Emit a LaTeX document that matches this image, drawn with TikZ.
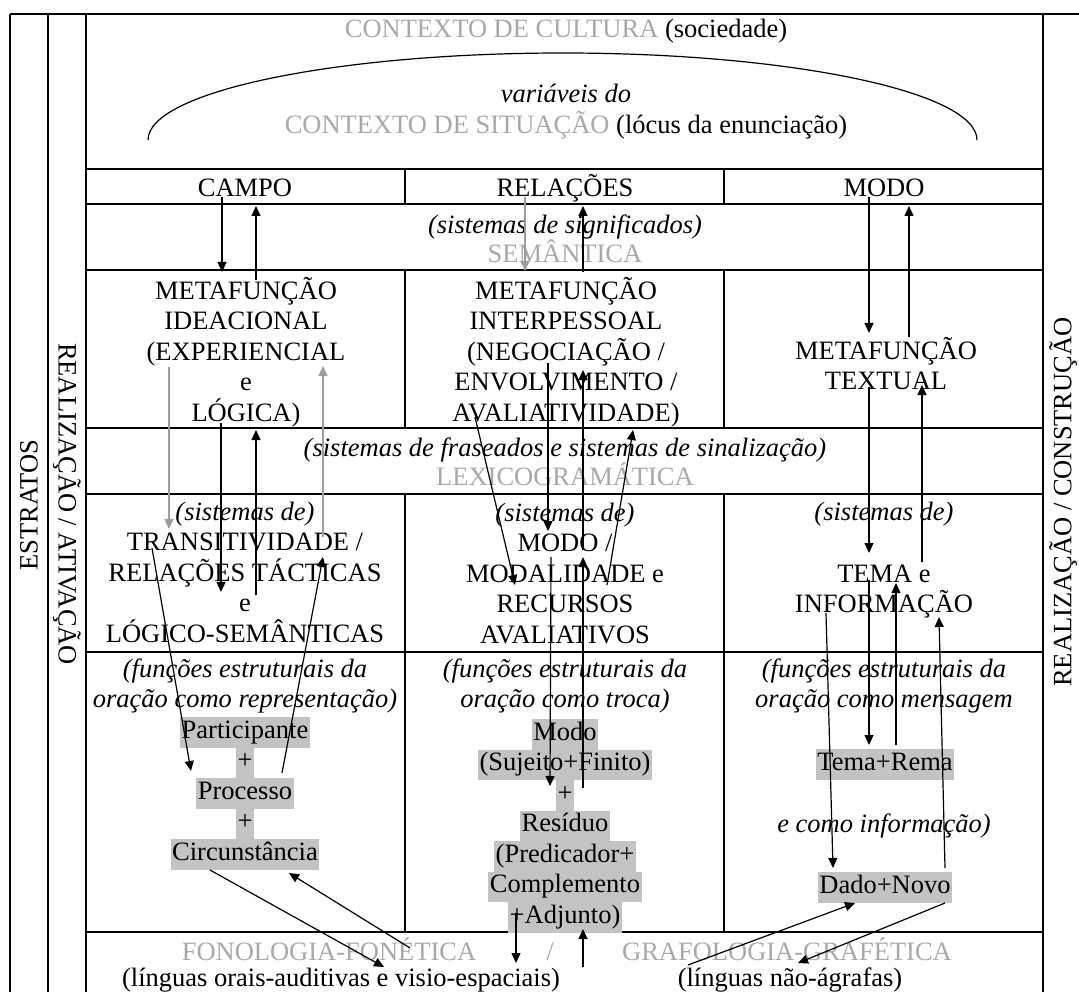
\documentclass[tikz,border=0pt]{standalone}
\usepackage{fontspec}
\setmainfont{Liberation Serif}
\usetikzlibrary{arrows.meta}
\definecolor{shade}{HTML}{C3C3C3}
\definecolor{ghost}{HTML}{A9A9A9}
\definecolor{greyline}{HTML}{9C9C9C}
\newcommand{\tfont}{\fontsize{26.5}{30.5}\selectfont}

\begin{document}
\begin{tikzpicture}[x=1pt, y=-1pt,
    rule/.style={line width=2.4pt},
    arr/.style={-{Triangle[length=10pt,width=9pt]}, line width=1.2pt},
    garr/.style={arr, draw=greyline},
    lbl/.style={font=\tfont, align=center, anchor=base, inner sep=0pt},
    itlbl/.style={lbl, font=\tfont\itshape},
    ghosttxt/.style={lbl, text=ghost},
    hl/.style={lbl, fill=shade, inner xsep=1.5pt, inner ysep=0pt, text height=21pt, text depth=9.5pt}
  ]
  \useasboundingbox (0,0) rectangle (1079,992);

  % frame and grid
  \draw[line width=2pt] (10,14) -- (1079,14);
  \draw[line width=2pt] (10,14) -- (10,992);
  \draw[line width=2pt] (48,14) -- (48,992);
  \draw[rule] (86,14) -- (86,992);
  \draw[rule] (1043,14) -- (1043,992);
  \foreach \y in {169,204,270,428,494,652,932}
    \draw[rule] (86,\y) -- (1043,\y);
  \foreach \x in {405,724} {
    \draw[rule] (\x,169) -- (\x,204);
    \draw[rule] (\x,270) -- (\x,428);
    \draw[rule] (\x,494) -- (\x,932);
  }

  % side labels
  \node[lbl, anchor=center, rotate=90] (estratos) at (29,505) {ESTRATOS};
  \node[lbl, anchor=center, rotate=-90] (ativacao) at (67,504) {REALIZAÇÃO / ATIVAÇÃO};
  \node[lbl, anchor=center, rotate=90] (construcao) at (1063,502) {REALIZAÇÃO / CONSTRUÇÃO};

  % context (base = last line)
  \node[lbl] (cultura) at (566,38) {{\color{ghost}CONTEXTO DE CULTURA} (sociedade)};
  \node[lbl] (situacao) at (566,133.5) {\textit{variáveis do}\\{\color{ghost}CONTEXTO DE SITUAÇÃO} (lócus da enunciação)};
  \draw[line width=1.2pt] (148,140) .. controls (148,92) and (334,53) .. (563,53)
    .. controls (791,53) and (977,92) .. (977,140);

  % register
  \node[lbl] (campo) at (245,197) {CAMPO};
  \node[lbl] (relacoes) at (565,197) {RELAÇÕES};
  \node[lbl] (modo) at (884,197) {MODO};

  % semantics
  \node[itlbl] (signif) at (565,234) {(sistemas de significados)};
  \node[ghosttxt] (semantica) at (565,263) {SEMÂNTICA};
  \node[lbl] (ideacional) at (246,421) {METAFUNÇÃO\\IDEACIONAL\\(EXPERIENCIAL\\e\\LÓGICA)};
  \node[lbl] (interpessoal) at (566,421) {METAFUNÇÃO\\INTERPESSOAL\\(NEGOCIAÇÃO /\\ENVOLVIMENTO /\\AVALIATIVIDADE)};
  \node[lbl] (textual) at (886,389.5) {METAFUNÇÃO\\TEXTUAL};

  % lexicogrammar
  \node[itlbl] (fraseados) at (565,456) {(sistemas de fraseados e sistemas de sinalização)};
  \node[ghosttxt] (lexico) at (565,485) {LEXICOGRAMÁTICA};
  \node[lbl] (transitiv) at (245,642) {\textit{(sistemas de)}\\TRANSITIVIDADE /\\RELAÇÕES TÁCTICAS\\e\\LÓGICO-SEMÂNTICAS};
  \node[lbl] (modalidade) at (565,643) {\textit{(sistemas de)}\\MODO /\\MODALIDADE e\\RECURSOS\\AVALIATIVOS};
  \node[itlbl] (sistemas) at (884,520) {(sistemas de)};
  \node[lbl] (tema) at (884,612.5) {TEMA e\\INFORMAÇÃO};

  % structural functions
  \node[itlbl] (funcrep) at (245,707.5) {(funções estruturais da\\oração como representação)};
  \node[itlbl] (functroca) at (565,707.5) {(funções estruturais da\\oração como troca)};
  \node[itlbl] (funcmsg) at (884,707.5) {(funções estruturais da\\oração como mensagem};
  \node[itlbl] (funcinfo) at (884,832) {e como informação)};

  \node[hl] (partic) at (245,738) {Participante};
  \node[hl] (plusA) at (245,768.5) {+};
  \node[hl] (processo) at (245,799) {Processo};
  \node[hl] (plusB) at (245,829.5) {+};
  \node[hl] (circ) at (245,860) {Circunstância};

  \node[hl] (modoF) at (565,740) {Modo};
  \node[hl] (sujeito) at (565,770.5) {(Sujeito+Finito)};
  \node[hl] (plusC) at (565,801) {+};
  \node[hl] (residuo) at (565,831.5) {Resíduo};
  \node[hl] (predic) at (565,862) {(Predicador+};
  \node[hl] (complem) at (565,892.5) {Complemento};
  \node[hl] (adjunto) at (565,923) {+Adjunto)};

  \node[hl] (temarema) at (885,770) {Tema+Rema};
  \node[hl] (dadonovo) at (885,893) {Dado+Novo};

  % phonology / graphology
  \node[ghosttxt] (fonologia) at (329,960) {FONOLOGIA-FONÉTICA};
  \node[ghosttxt] (barra) at (550,960) {/};
  \node[ghosttxt] (grafologia) at (787,960) {GRAFOLOGIA-GRAFÉTICA};
  \node[lbl] (orais) at (341,986) {(línguas orais-auditivas e visio-espaciais)};
  \node[lbl] (agrafas) at (790,986) {(línguas não-ágrafas)};

  % realization arrows
  \foreach \n/\a/\b in {cA/{222,197}/{222,272}, cB/{256,280}/{256,206},
      cE/{221,423}/{221,592}, cF/{256,595}/{256,430},
      cG/{152,548}/{191,771}, cH/{282,773}/{323,557},
      cI/{210,870}/{384,967}, cJ/{410,948}/{289,873},
      rB/{583,272}/{583,206}, rC/{548,363}/{548,531},
      rD/{583,550}/{583,370}, rE/{583,788}/{583,557},
      rF/{551,557}/{550,786}, rG/{475,417}/{515,585},
      rH/{607,585}/{633,430}, rI/{516,913}/{516,963},
      rJ/{583,967}/{583,929},
      mA/{869,197}/{869,333}, mB/{909,337}/{909,206},
      mC/{869,387}/{869,553}, mD/{922,562}/{922,385},
      mE/{869,580}/{869,745}, mF/{896,745}/{896,583},
      mG/{826,613}/{833,868}, mH/{945,868}/{939,617},
      mI/{688,965}/{855,903}, mJ/{945,903}/{798,963}} {
    \coordinate (\n1) at (\a);
    \coordinate (\n2) at (\b);
    \draw[arr] (\n1) -- (\n2);
  }
  \foreach \n/\a/\b in {cC/{169,367}/{169,529}, cD/{323,537}/{323,366},
      rA/{525,197}/{525,271}} {
    \coordinate (\n1) at (\a);
    \coordinate (\n2) at (\b);
    \draw[garr] (\n1) -- (\n2);
  }
\end{tikzpicture}
\end{document}
